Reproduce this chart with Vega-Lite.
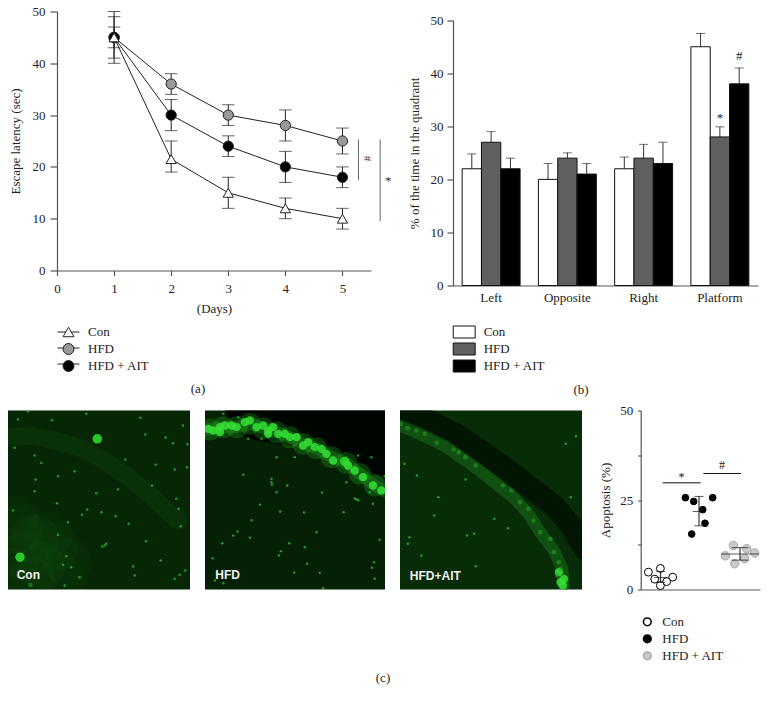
{"$schema":"https://vega.github.io/schema/vega-lite/v6.json","padding":{"left":8,"top":5.5,"right":0,"bottom":0},"background":"white","spacing":8,"align":"none","columns":1,
"config":{"view":{"stroke":null},"font":"Liberation Serif","axis":{"grid":false,"labelFlush":false,"domainColor":"#555","tickColor":"#555","domainWidth":1.2,"tickWidth":1.2,"labelFont":"Liberation Serif","titleFont":"Liberation Serif","labelFontSize":13,"titleFontSize":13,"labelColor":"#222","titleColor":"#222","titleFontWeight":"normal"},"legend":{"labelFont":"Liberation Serif","labelFontSize":13,"labelColor":"#222","title":null},"title":{"font":"Liberation Serif","fontSize":13,"fontWeight":"normal","color":"#222"}},
"resolve":{"scale":{"color":"independent","fill":"independent","stroke":"independent","shape":"independent","size":"independent","opacity":"independent"}},
"datasets":{
"latency":[
{"group":"HFD","day":1,"mean":45,"lo":41,"hi":49},{"group":"HFD","day":2,"mean":36,"lo":34,"hi":38},{"group":"HFD","day":3,"mean":30,"lo":28,"hi":32},{"group":"HFD","day":4,"mean":28,"lo":25,"hi":31},{"group":"HFD","day":5,"mean":25,"lo":22.5,"hi":27.5},
{"group":"HFD + AIT","day":1,"mean":45,"lo":43,"hi":47},{"group":"HFD + AIT","day":2,"mean":30,"lo":27,"hi":33},{"group":"HFD + AIT","day":3,"mean":24,"lo":22,"hi":26},{"group":"HFD + AIT","day":4,"mean":20,"lo":17,"hi":23},{"group":"HFD + AIT","day":5,"mean":18,"lo":16,"hi":20},
{"group":"Con","day":1,"mean":45,"lo":40,"hi":50},{"group":"Con","day":2,"mean":21.5,"lo":19,"hi":25},{"group":"Con","day":3,"mean":15,"lo":12,"hi":18},{"group":"Con","day":4,"mean":12,"lo":10,"hi":14},{"group":"Con","day":5,"mean":10,"lo":8,"hi":12}],
"quadrant":[
{"q":"Left","group":"Con","v":22,"hi":24.8},{"q":"Left","group":"HFD","v":27,"hi":29},{"q":"Left","group":"HFD + AIT","v":22,"hi":24},
{"q":"Opposite","group":"Con","v":20,"hi":23},{"q":"Opposite","group":"HFD","v":24,"hi":25},{"q":"Opposite","group":"HFD + AIT","v":21,"hi":23},
{"q":"Right","group":"Con","v":22,"hi":24.2},{"q":"Right","group":"HFD","v":24,"hi":26.6},{"q":"Right","group":"HFD + AIT","v":23,"hi":27},
{"q":"Platform","group":"Con","v":45,"hi":47.5},{"q":"Platform","group":"HFD","v":28,"hi":29.9},{"q":"Platform","group":"HFD + AIT","v":38,"hi":41}],
"apoptosis":[
{"group":"Con","x":7.7,"y":4.85},{"group":"Con","x":19.7,"y":5.9},{"group":"Con","x":32,"y":3.45},{"group":"Con","x":14,"y":2.9},{"group":"Con","x":26,"y":2.2},{"group":"Con","x":19.7,"y":1.1},
{"group":"HFD","x":44.7,"y":25.65},{"group":"HFD","x":53,"y":24.6},{"group":"HFD","x":72,"y":25.65},{"group":"HFD","x":62,"y":22.3},{"group":"HFD","x":64.3,"y":18.5},{"group":"HFD","x":51,"y":15.5},
{"group":"HFD + AIT","x":84.7,"y":9.4},{"group":"HFD + AIT","x":92.7,"y":12.3},{"group":"HFD + AIT","x":106,"y":11.4},{"group":"HFD + AIT","x":114,"y":10.2},{"group":"HFD + AIT","x":104,"y":8.6},{"group":"HFD + AIT","x":94,"y":7.2}],
"apoStats":[{"group":"Con","x":20,"mean":3.35,"lo":2,"hi":5},{"group":"HFD","x":58.3,"mean":21.8,"lo":17.8,"hi":26},{"group":"HFD + AIT","x":99.3,"mean":9.95,"lo":8.2,"hi":11.7}],
"bands":[
{"panel":"Con","kind":"arc","x":15,"y":95},{"panel":"Con","kind":"arc","x":80,"y":90},{"panel":"Con","kind":"arc","x":150,"y":105},{"panel":"Con","kind":"arc","x":220,"y":125},{"panel":"Con","kind":"arc","x":290,"y":160},{"panel":"Con","kind":"arc","x":350,"y":200},{"panel":"Con","kind":"arc","x":410,"y":245},{"panel":"Con","kind":"arc","x":470,"y":300},{"panel":"Con","kind":"arc","x":520,"y":345},
{"panel":"AIT","kind":"dark","x":10,"y":22},{"panel":"AIT","kind":"dark","x":100,"y":45},{"panel":"AIT","kind":"dark","x":180,"y":85},{"panel":"AIT","kind":"dark","x":260,"y":140},{"panel":"AIT","kind":"dark","x":330,"y":190},{"panel":"AIT","kind":"dark","x":400,"y":245},{"panel":"AIT","kind":"dark","x":470,"y":300},{"panel":"AIT","kind":"dark","x":520,"y":360},{"panel":"AIT","kind":"dark","x":560,"y":430},
{"panel":"AIT","kind":"glow","x":15,"y":60},{"panel":"AIT","kind":"glow","x":60,"y":78},{"panel":"AIT","kind":"glow","x":100,"y":98},{"panel":"AIT","kind":"glow","x":150,"y":122},{"panel":"AIT","kind":"glow","x":200,"y":158},{"panel":"AIT","kind":"glow","x":250,"y":195},{"panel":"AIT","kind":"glow","x":300,"y":235},{"panel":"AIT","kind":"glow","x":350,"y":275},{"panel":"AIT","kind":"glow","x":395,"y":325},{"panel":"AIT","kind":"glow","x":430,"y":380},{"panel":"AIT","kind":"glow","x":470,"y":435},{"panel":"AIT","kind":"glow","x":495,"y":490},{"panel":"AIT","kind":"glow","x":500,"y":550},
{"panel":"HFD","kind":"shade","x":180,"y":0},{"panel":"HFD","kind":"shade","x":300,"y":20},{"panel":"HFD","kind":"shade","x":400,"y":40},{"panel":"HFD","kind":"shade","x":480,"y":70},{"panel":"HFD","kind":"shade","x":570,"y":110},
{"panel":"HFD","kind":"glow","x":15,"y":72},{"panel":"HFD","kind":"glow","x":70,"y":65},{"panel":"HFD","kind":"glow","x":110,"y":65},{"panel":"HFD","kind":"glow","x":150,"y":55},{"panel":"HFD","kind":"glow","x":190,"y":68},{"panel":"HFD","kind":"glow","x":230,"y":80},{"panel":"HFD","kind":"glow","x":270,"y":95},{"panel":"HFD","kind":"glow","x":310,"y":115},{"panel":"HFD","kind":"glow","x":350,"y":128},{"panel":"HFD","kind":"glow","x":395,"y":155},{"panel":"HFD","kind":"glow","x":440,"y":172},{"panel":"HFD","kind":"glow","x":480,"y":205},{"panel":"HFD","kind":"glow","x":525,"y":240},{"panel":"HFD","kind":"glow","x":556,"y":258}],
"spots":[
{"panel":"Con","kind":"haze","x":40,"y":370},{"panel":"Con","kind":"haze","x":90,"y":400},{"panel":"Con","kind":"haze","x":150,"y":425},{"panel":"Con","kind":"haze","x":190,"y":470},{"panel":"Con","kind":"haze","x":60,"y":450},{"panel":"Con","kind":"haze","x":110,"y":480},{"panel":"Con","kind":"haze","x":170,"y":525},{"panel":"Con","kind":"haze","x":30,"y":500},{"panel":"Con","kind":"haze","x":80,"y":525},{"panel":"Con","kind":"haze","x":130,"y":390},{"panel":"Con","kind":"haze","x":30,"y":340},
{"panel":"Con","kind":"blob","x":278,"y":100},{"panel":"Con","kind":"blob","x":46,"y":455},{"panel":"Con","kind":"faint","x":77,"y":538},
{"panel":"Con","kind":"spot","x":40,"y":42},{"panel":"Con","kind":"spot","x":70,"y":17},{"panel":"Con","kind":"spot","x":142,"y":44},{"panel":"Con","kind":"spot","x":245,"y":25},{"panel":"Con","kind":"spot","x":407,"y":37},{"panel":"Con","kind":"spot","x":535,"y":60},{"panel":"Con","kind":"spot","x":422,"y":87},{"panel":"Con","kind":"spot","x":483,"y":96},{"panel":"Con","kind":"spot","x":548,"y":116},{"panel":"Con","kind":"spot","x":505,"y":113},{"panel":"Con","kind":"spot","x":30,"y":127},{"panel":"Con","kind":"spot","x":90,"y":150},{"panel":"Con","kind":"spot","x":110,"y":172},{"panel":"Con","kind":"spot","x":362,"y":162},{"panel":"Con","kind":"spot","x":453,"y":178},{"panel":"Con","kind":"spot","x":547,"y":185},{"panel":"Con","kind":"spot","x":510,"y":192},{"panel":"Con","kind":"spot","x":160,"y":212},{"panel":"Con","kind":"spot","x":210,"y":197},{"panel":"Con","kind":"spot","x":93,"y":222},{"panel":"Con","kind":"spot","x":442,"y":240},{"panel":"Con","kind":"spot","x":90,"y":257},{"panel":"Con","kind":"spot","x":340,"y":252},{"panel":"Con","kind":"spot","x":275,"y":263},{"panel":"Con","kind":"spot","x":515,"y":280},{"panel":"Con","kind":"spot","x":157,"y":293},{"panel":"Con","kind":"spot","x":25,"y":315},{"panel":"Con","kind":"spot","x":248,"y":312},{"panel":"Con","kind":"spot","x":232,"y":328},{"panel":"Con","kind":"spot","x":290,"y":320},{"panel":"Con","kind":"spot","x":333,"y":332},{"panel":"Con","kind":"spot","x":372,"y":355},{"panel":"Con","kind":"spot","x":190,"y":350},{"panel":"Con","kind":"spot","x":528,"y":362},{"panel":"Con","kind":"spot","x":522,"y":310},{"panel":"Con","kind":"spot","x":160,"y":388},{"panel":"Con","kind":"spot","x":300,"y":420},{"panel":"Con","kind":"spot","x":293,"y":423},{"panel":"Con","kind":"spot","x":305,"y":415},{"panel":"Con","kind":"spot","x":424,"y":407},{"panel":"Con","kind":"spot","x":185,"y":452},{"panel":"Con","kind":"spot","x":175,"y":478},{"panel":"Con","kind":"spot","x":200,"y":485},{"panel":"Con","kind":"spot","x":468,"y":465},{"panel":"Con","kind":"spot","x":385,"y":483},{"panel":"Con","kind":"spot","x":390,"y":510},{"panel":"Con","kind":"spot","x":525,"y":508},{"panel":"Con","kind":"spot","x":510,"y":520},{"panel":"Con","kind":"spot","x":542,"y":495},{"panel":"Con","kind":"spot","x":180,"y":540},{"panel":"Con","kind":"spot","x":225,"y":515},
{"panel":"HFD","kind":"halo","x":30,"y":72},{"panel":"HFD","kind":"halo","x":70,"y":65},{"panel":"HFD","kind":"halo","x":110,"y":65},{"panel":"HFD","kind":"halo","x":150,"y":55},{"panel":"HFD","kind":"halo","x":190,"y":68},{"panel":"HFD","kind":"halo","x":230,"y":80},{"panel":"HFD","kind":"halo","x":270,"y":95},{"panel":"HFD","kind":"halo","x":310,"y":115},{"panel":"HFD","kind":"halo","x":350,"y":128},{"panel":"HFD","kind":"halo","x":395,"y":155},{"panel":"HFD","kind":"halo","x":440,"y":172},{"panel":"HFD","kind":"halo","x":480,"y":205},{"panel":"HFD","kind":"halo","x":525,"y":240},
{"panel":"HFD","kind":"cell","x":25,"y":70},{"panel":"HFD","kind":"cell","x":40,"y":75},{"panel":"HFD","kind":"cell","x":60,"y":65},{"panel":"HFD","kind":"cell","x":75,"y":60},{"panel":"HFD","kind":"cell","x":95,"y":60},{"panel":"HFD","kind":"cell","x":110,"y":65},{"panel":"HFD","kind":"cell","x":135,"y":50},{"panel":"HFD","kind":"cell","x":150,"y":45},{"panel":"HFD","kind":"cell","x":170,"y":65},{"panel":"HFD","kind":"cell","x":190,"y":60},{"panel":"HFD","kind":"cell","x":205,"y":75},{"panel":"HFD","kind":"cell","x":220,"y":65},{"panel":"HFD","kind":"cell","x":235,"y":85},{"panel":"HFD","kind":"cell","x":255,"y":85},{"panel":"HFD","kind":"cell","x":270,"y":95},{"panel":"HFD","kind":"cell","x":290,"y":95},{"panel":"HFD","kind":"cell","x":310,"y":120},{"panel":"HFD","kind":"cell","x":325,"y":110},{"panel":"HFD","kind":"cell","x":345,"y":125},{"panel":"HFD","kind":"cell","x":365,"y":130},{"panel":"HFD","kind":"cell","x":380,"y":145},{"panel":"HFD","kind":"cell","x":400,"y":165},{"panel":"HFD","kind":"blob","x":435,"y":168},{"panel":"HFD","kind":"cell","x":445,"y":180},{"panel":"HFD","kind":"cell","x":465,"y":195},{"panel":"HFD","kind":"cell","x":490,"y":215},{"panel":"HFD","kind":"cell","x":520,"y":240},{"panel":"HFD","kind":"cell","x":545,"y":255},{"panel":"HFD","kind":"cell","x":60,"y":80},{"panel":"HFD","kind":"cell","x":205,"y":85},
{"panel":"HFD","kind":"spot","x":70,"y":25},{"panel":"HFD","kind":"spot","x":115,"y":35},{"panel":"HFD","kind":"spot","x":130,"y":55},{"panel":"HFD","kind":"spot","x":145,"y":100},{"panel":"HFD","kind":"spot","x":185,"y":100},{"panel":"HFD","kind":"spot","x":230,"y":155},{"panel":"HFD","kind":"spot","x":285,"y":155},{"panel":"HFD","kind":"spot","x":475,"y":150},{"panel":"HFD","kind":"spot","x":515,"y":155},{"panel":"HFD","kind":"spot","x":130,"y":208},{"panel":"HFD","kind":"spot","x":215,"y":220},{"panel":"HFD","kind":"spot","x":215,"y":230},{"panel":"HFD","kind":"spot","x":216,"y":238},{"panel":"HFD","kind":"spot","x":262,"y":240},{"panel":"HFD","kind":"spot","x":230,"y":260},{"panel":"HFD","kind":"spot","x":367,"y":261},{"panel":"HFD","kind":"spot","x":465,"y":279},{"panel":"HFD","kind":"spot","x":470,"y":281},{"panel":"HFD","kind":"spot","x":476,"y":284},{"panel":"HFD","kind":"spot","x":180,"y":298},{"panel":"HFD","kind":"spot","x":241,"y":318},{"panel":"HFD","kind":"spot","x":313,"y":321},{"panel":"HFD","kind":"spot","x":432,"y":320},{"panel":"HFD","kind":"spot","x":155,"y":344},{"panel":"HFD","kind":"spot","x":350,"y":380},{"panel":"HFD","kind":"spot","x":113,"y":378},{"panel":"HFD","kind":"spot","x":100,"y":390},{"panel":"HFD","kind":"spot","x":150,"y":397},{"panel":"HFD","kind":"spot","x":67,"y":413},{"panel":"HFD","kind":"spot","x":268,"y":413},{"panel":"HFD","kind":"spot","x":315,"y":425},{"panel":"HFD","kind":"spot","x":243,"y":437},{"panel":"HFD","kind":"spot","x":237,"y":450},{"panel":"HFD","kind":"spot","x":38,"y":458},{"panel":"HFD","kind":"spot","x":540,"y":403},{"panel":"HFD","kind":"spot","x":523,"y":470},{"panel":"HFD","kind":"spot","x":517,"y":487},{"panel":"HFD","kind":"spot","x":322,"y":475},{"panel":"HFD","kind":"spot","x":283,"y":501},{"panel":"HFD","kind":"spot","x":360,"y":502},{"panel":"HFD","kind":"spot","x":525,"y":520},{"panel":"HFD","kind":"spot","x":370,"y":548},{"panel":"HFD","kind":"spot","x":70,"y":533},{"panel":"HFD","kind":"spot","x":555,"y":212},{"panel":"HFD","kind":"spot","x":45,"y":525},{"panel":"HFD","kind":"spot","x":440,"y":230},{"panel":"HFD","kind":"spot","x":510,"y":260},{"panel":"HFD","kind":"spot","x":520,"y":295},
{"panel":"AIT","kind":"cell","x":490,"y":530},{"panel":"AIT","kind":"cell","x":497,"y":540},{"panel":"AIT","kind":"cell","x":500,"y":520},{"panel":"AIT","kind":"cell","x":485,"y":500},
{"panel":"AIT","kind":"faint","x":20,"y":55},{"panel":"AIT","kind":"faint","x":40,"y":68},{"panel":"AIT","kind":"faint","x":65,"y":75},{"panel":"AIT","kind":"faint","x":90,"y":85},{"panel":"AIT","kind":"faint","x":125,"y":112},{"panel":"AIT","kind":"faint","x":175,"y":132},{"panel":"AIT","kind":"faint","x":190,"y":140},{"panel":"AIT","kind":"faint","x":210,"y":155},{"panel":"AIT","kind":"faint","x":240,"y":180},{"panel":"AIT","kind":"faint","x":320,"y":240},{"panel":"AIT","kind":"faint","x":345,"y":255},{"panel":"AIT","kind":"faint","x":370,"y":290},{"panel":"AIT","kind":"faint","x":395,"y":310},{"panel":"AIT","kind":"faint","x":410,"y":345},{"panel":"AIT","kind":"faint","x":430,"y":380},{"panel":"AIT","kind":"faint","x":460,"y":400},{"panel":"AIT","kind":"faint","x":470,"y":440},{"panel":"AIT","kind":"faint","x":485,"y":470},{"panel":"AIT","kind":"faint","x":490,"y":490},{"panel":"AIT","kind":"faint","x":480,"y":510},
{"panel":"AIT","kind":"spot","x":535,"y":92},{"panel":"AIT","kind":"spot","x":505,"y":115},{"panel":"AIT","kind":"spot","x":67,"y":210},{"panel":"AIT","kind":"spot","x":30,"y":175},{"panel":"AIT","kind":"spot","x":210,"y":222},{"panel":"AIT","kind":"spot","x":130,"y":275},{"panel":"AIT","kind":"spot","x":118,"y":330},{"panel":"AIT","kind":"spot","x":295,"y":340},{"panel":"AIT","kind":"spot","x":335,"y":368},{"panel":"AIT","kind":"spot","x":520,"y":275},{"panel":"AIT","kind":"spot","x":40,"y":415},{"panel":"AIT","kind":"spot","x":80,"y":450},{"panel":"AIT","kind":"spot","x":240,"y":482},{"panel":"AIT","kind":"spot","x":45,"y":395},{"panel":"AIT","kind":"spot","x":235,"y":385},{"panel":"AIT","kind":"spot","x":215,"y":390}],
"names":[{"panel":"Con","label":"Con","x":36,"y":509},{"panel":"HFD","label":"HFD","x":46,"y":509},{"panel":"AIT","label":"HFD+AIT","x":46,"y":511}]
},
"concat":[
{"hconcat":[
{"width":363,"height":259,
"title":{"text":"(a)","orient":"bottom","offset":9,"dx":8.5,"anchor":"middle","frame":"group"},
"data":{"name":"latency"},
"encoding":{"x":{"field":"day","type":"quantitative","scale":{"domain":[0,5.5],"nice":false,"range":[49,363]},"axis":{"values":[0,1,2,3,4,5],"title":"(Days)","tickSize":5,"labelPadding":7,"titlePadding":7,"format":"d"}},
"y":{"type":"quantitative","scale":{"domain":[0,50],"nice":false}}},
"layer":[
{"mark":{"type":"line","strokeWidth":1},"encoding":{"y":{"field":"mean","type":"quantitative","scale":{"domain":[0,50],"nice":false},"axis":{"values":[0,10,20,30,40,50],"title":"Escape latency (sec)","tickSize":7,"labelPadding":5,"titlePadding":10,"offset":-49}},"color":{"field":"group","type":"nominal","scale":{"domain":["Con","HFD + AIT","HFD"],"range":["#222","#222","#222"]},"legend":{"orient":"none","legendX":54,"legendY":314,"symbolType":"M-2,0H2","symbolSize":120,"symbolStrokeWidth":1,"labelExpr":"''","labelOffset":13,"rowPadding":2,"zindex":1}}}},
{"mark":{"type":"rule","color":"#222","strokeWidth":1},"encoding":{"y":{"field":"lo","type":"quantitative","scale":{"domain":[0,50],"nice":false}},"y2":{"field":"hi"}}},
{"mark":{"type":"tick","orient":"horizontal","color":"#222","thickness":1,"size":12.5},"encoding":{"y":{"field":"lo","type":"quantitative"}}},
{"mark":{"type":"tick","orient":"horizontal","color":"#222","thickness":1,"size":12.5},"encoding":{"y":{"field":"hi","type":"quantitative"}}},
{"mark":{"type":"point","filled":true,"size":105,"stroke":"#222","strokeWidth":1,"opacity":1},"encoding":{"y":{"field":"mean","type":"quantitative"},
"fill":{"field":"group","type":"nominal","scale":{"domain":["Con","HFD","HFD + AIT"],"range":["#ffffff","#999999","#000000"]},"legend":{"orient":"none","legendX":54,"legendY":314,"symbolSize":120,"symbolStrokeColor":"#222","symbolStrokeWidth":1,"labelOffset":13,"rowPadding":2,"zindex":2}},
"shape":{"field":"group","type":"nominal","scale":{"domain":["Con","HFD","HFD + AIT"],"range":["triangle-up","circle","circle"]}}}},
{"data":{"values":[{"x":5.28,"a":25.3,"b":17.4},{"x":5.66,"a":25.3,"b":9.5}]},"mark":{"type":"rule","color":"#666","strokeWidth":1},"encoding":{"x":{"field":"x","type":"quantitative"},"y":{"field":"a","type":"quantitative"},"y2":{"field":"b"}}},
{"data":{"values":[{"x":5.43,"y":21.6,"t":"#"}]},"mark":{"type":"text","fontSize":11,"angle":90,"color":"#333"},"encoding":{"x":{"field":"x","type":"quantitative"},"y":{"field":"y","type":"quantitative"},"text":{"field":"t"}}},
{"data":{"values":[{"x":5.8,"y":17.2,"t":"*"}]},"mark":{"type":"text","fontSize":13,"color":"#333"},"encoding":{"x":{"field":"x","type":"quantitative"},"y":{"field":"y","type":"quantitative"},"text":{"field":"t"}}}
]},
{"width":305,"height":274,
"title":{"text":"(b)","orient":"bottom","offset":9,"dx":-24.5,"anchor":"middle","frame":"group"},
"data":{"name":"quadrant"},
"encoding":{"x":{"field":"q","type":"nominal","sort":["Left","Opposite","Right","Platform"],"scale":{"paddingInner":0.24,"paddingOuter":0.12},"axis":{"title":null,"ticks":false,"labelAngle":0,"labelPadding":6}},
"xOffset":{"field":"group","type":"nominal","sort":["Con","HFD","HFD + AIT"],"scale":{"paddingInner":0,"paddingOuter":0}}},
"layer":[
{"mark":{"type":"rule","color":"#333","strokeWidth":1},"encoding":{"y":{"field":"v","type":"quantitative"},"y2":{"field":"hi"}}},
{"mark":{"type":"tick","orient":"horizontal","color":"#333","thickness":1,"size":9},"encoding":{"y":{"field":"hi","type":"quantitative"}}},
{"mark":{"type":"bar","stroke":"#111","strokeWidth":1},"encoding":{"y":{"field":"v","type":"quantitative","scale":{"domain":[0,50],"nice":false,"range":[274,8.7]},"axis":{"values":[0,10,20,30,40,50],"title":"% of the time in the quadrant","tickSize":6,"labelPadding":4,"titlePadding":9}},
"fill":{"field":"group","type":"nominal","scale":{"domain":["Con","HFD","HFD + AIT"],"range":["#ffffff","#606060","#000000"]},"legend":{"orient":"none","legendX":4.7,"legendY":314,"symbolType":"M-1.83,-1H1.83V1H-1.83Z","symbolSize":144,"symbolStrokeColor":"#111","symbolStrokeWidth":1,"labelOffset":13,"rowPadding":0}}}},
{"data":{"values":[{"q":"Platform","group":"HFD","y":31.6,"t":"*"},{"q":"Platform","group":"HFD + AIT","y":43.2,"t":"#"}]},"mark":{"type":"text","fontSize":13,"color":"#222"},"encoding":{"y":{"field":"y","type":"quantitative"},"text":{"field":"t"}}}
]}
],"spacing":82,"bounds":"flush","resolve":{"scale":{"color":"independent","fill":"independent","stroke":"independent","shape":"independent","size":"independent","opacity":"independent"}}},
{"hconcat":[
{"width":182,"height":179,"view":{"fill":"#062606","stroke":null},"resolve":{"scale":{"color":"independent","size":"independent","opacity":"independent"}},"layer":[
{"data":{"name":"bands"},"transform":[{"filter":"datum.panel=='Con'"}],"mark":{"type":"trail","clip":true},"encoding":{"x":{"field":"x","type":"quantitative","scale":{"domain":[10,556],"nice":false,"zero":false},"axis":null},"y":{"field":"y","type":"quantitative","scale":{"domain":[552,15],"nice":false,"zero":false},"axis":null},"color":{"field":"kind","type":"nominal","scale":{"domain":["arc","dark","glow","shade"],"range":["#1a7a1a","#021402","#1d8a1d","#000500"]},"legend":null},"size":{"field":"kind","type":"nominal","scale":{"type":"ordinal","domain":["arc","dark","glow","shade"],"range":[18,22,12,70]},"legend":null},"opacity":{"field":"kind","type":"nominal","scale":{"type":"ordinal","domain":["arc","dark","glow","shade"],"range":[0.14,0.95,0.4,1]},"legend":null}}},
{"data":{"name":"spots"},"transform":[{"filter":"datum.panel=='Con'"}],"mark":{"type":"circle","clip":true},"encoding":{"x":{"field":"x","type":"quantitative"},"y":{"field":"y","type":"quantitative"},"color":{"field":"kind","type":"nominal","scale":{"domain":["haze","halo","blob","cell","faint","spot"],"range":["#1c8c1c","#1f9f1f","#2ed82e","#35e035","#2aa82a","#2cbc2c"]},"legend":null},"size":{"field":"kind","type":"nominal","scale":{"type":"ordinal","domain":["haze","halo","blob","cell","faint","spot"],"range":[2400,480,90,70,22,6]},"legend":null},"opacity":{"field":"kind","type":"nominal","scale":{"type":"ordinal","domain":["haze","halo","blob","cell","faint","spot"],"range":[0.06,0.33,0.9,0.85,0.5,0.8]},"legend":null}}},
{"data":{"name":"names"},"transform":[{"filter":"datum.panel=='Con'"}],"mark":{"type":"text","font":"Liberation Sans","fontWeight":"bold","fontSize":12,"color":"#f0f0f0","align":"left"},"encoding":{"x":{"field":"x","type":"quantitative"},"y":{"field":"y","type":"quantitative"},"text":{"field":"label"}}}
]},
{"width":180,"height":179,"view":{"fill":"#052005","stroke":null},"resolve":{"scale":{"color":"independent","size":"independent","opacity":"independent"}},
"title":{"text":"(c)","orient":"bottom","offset":82,"dx":88,"anchor":"middle","frame":"group"},
"layer":[
{"data":{"name":"bands"},"transform":[{"filter":"datum.panel=='HFD'"}],"mark":{"type":"trail","clip":true},"encoding":{"x":{"field":"x","type":"quantitative","scale":{"domain":[15,556],"nice":false,"zero":false},"axis":null},"y":{"field":"y","type":"quantitative","scale":{"domain":[552,15],"nice":false,"zero":false},"axis":null},"color":{"field":"kind","type":"nominal","scale":{"domain":["arc","dark","glow","shade"],"range":["#1a7a1a","#021402","#1d8a1d","#000500"]},"legend":null},"size":{"field":"kind","type":"nominal","scale":{"type":"ordinal","domain":["arc","dark","glow","shade"],"range":[18,22,12,70]},"legend":null},"opacity":{"field":"kind","type":"nominal","scale":{"type":"ordinal","domain":["arc","dark","glow","shade"],"range":[0.14,0.95,0.4,1]},"legend":null}}},
{"data":{"name":"spots"},"transform":[{"filter":"datum.panel=='HFD'"}],"mark":{"type":"circle","clip":true},"encoding":{"x":{"field":"x","type":"quantitative"},"y":{"field":"y","type":"quantitative"},"color":{"field":"kind","type":"nominal","scale":{"domain":["haze","halo","blob","cell","faint","spot"],"range":["#1c8c1c","#1f9f1f","#2ed82e","#35e035","#2aa82a","#2cbc2c"]},"legend":null},"size":{"field":"kind","type":"nominal","scale":{"type":"ordinal","domain":["haze","halo","blob","cell","faint","spot"],"range":[2400,480,90,70,22,6]},"legend":null},"opacity":{"field":"kind","type":"nominal","scale":{"type":"ordinal","domain":["haze","halo","blob","cell","faint","spot"],"range":[0.06,0.33,0.9,0.85,0.5,0.8]},"legend":null}}},
{"data":{"name":"names"},"transform":[{"filter":"datum.panel=='HFD'"}],"mark":{"type":"text","font":"Liberation Sans","fontWeight":"bold","fontSize":12,"color":"#f0f0f0","align":"left"},"encoding":{"x":{"field":"x","type":"quantitative"},"y":{"field":"y","type":"quantitative"},"text":{"field":"label"}}}
]},
{"width":182,"height":179,"view":{"fill":"#082b08","stroke":null},"resolve":{"scale":{"color":"independent","size":"independent","opacity":"independent"}},"layer":[
{"data":{"name":"bands"},"transform":[{"filter":"datum.panel=='AIT'"}],"mark":{"type":"trail","clip":true},"encoding":{"x":{"field":"x","type":"quantitative","scale":{"domain":[17,553],"nice":false,"zero":false},"axis":null},"y":{"field":"y","type":"quantitative","scale":{"domain":[552,15],"nice":false,"zero":false},"axis":null},"color":{"field":"kind","type":"nominal","scale":{"domain":["arc","dark","glow","shade"],"range":["#1a7a1a","#021402","#1d8a1d","#000500"]},"legend":null},"size":{"field":"kind","type":"nominal","scale":{"type":"ordinal","domain":["arc","dark","glow","shade"],"range":[18,22,12,70]},"legend":null},"opacity":{"field":"kind","type":"nominal","scale":{"type":"ordinal","domain":["arc","dark","glow","shade"],"range":[0.14,0.95,0.4,1]},"legend":null}}},
{"data":{"name":"spots"},"transform":[{"filter":"datum.panel=='AIT'"}],"mark":{"type":"circle","clip":true},"encoding":{"x":{"field":"x","type":"quantitative"},"y":{"field":"y","type":"quantitative"},"color":{"field":"kind","type":"nominal","scale":{"domain":["haze","halo","blob","cell","faint","spot"],"range":["#1c8c1c","#1f9f1f","#2ed82e","#35e035","#2aa82a","#2cbc2c"]},"legend":null},"size":{"field":"kind","type":"nominal","scale":{"type":"ordinal","domain":["haze","halo","blob","cell","faint","spot"],"range":[2400,480,90,70,22,6]},"legend":null},"opacity":{"field":"kind","type":"nominal","scale":{"type":"ordinal","domain":["haze","halo","blob","cell","faint","spot"],"range":[0.06,0.33,0.9,0.85,0.5,0.8]},"legend":null}}},
{"data":{"name":"names"},"transform":[{"filter":"datum.panel=='AIT'"}],"mark":{"type":"text","font":"Liberation Sans","fontWeight":"bold","fontSize":12,"color":"#f0f0f0","align":"left"},"encoding":{"x":{"field":"x","type":"quantitative"},"y":{"field":"y","type":"quantitative"},"text":{"field":"label"}}}
]},
{"width":163,"height":179,"layer":[
{"data":{"name":"apoptosis"},"mark":{"type":"point","filled":true,"opacity":1,"strokeWidth":1},"encoding":{"x":{"field":"x","type":"quantitative","scale":{"domain":[0,119.3],"range":[43.7,163],"nice":false},"axis":{"title":null,"ticks":false,"labels":false}},"y":{"field":"y","type":"quantitative","scale":{"domain":[0,50],"nice":false},"axis":{"values":[0,12.5,25,37.5,50],"labelExpr":"datum.value % 25 == 0 ? datum.label : ''","title":"Apoptosis (%)","tickSize":3,"labelPadding":5,"titlePadding":7,"offset":-43.7,"format":"d"}},
"fill":{"field":"group","type":"nominal","scale":{"domain":["Con","HFD","HFD + AIT"],"range":["#ffffff","#000000","#c8c8c8"]},"legend":{"orient":"none","legendX":43.8,"legendY":204.8,"symbolSize":60,"labelOffset":8.5,"rowPadding":2}},
"stroke":{"field":"group","type":"nominal","scale":{"domain":["Con","HFD","HFD + AIT"],"range":["#000000","#000000","#aaaaaa"]}},
"size":{"field":"group","type":"nominal","scale":{"type":"ordinal","domain":["Con","HFD","HFD + AIT"],"range":[62,45,72]},"legend":null}}},
{"data":{"name":"apoStats"},"mark":{"type":"rule","color":"#111","strokeWidth":1},"encoding":{"x":{"field":"x","type":"quantitative"},"y":{"field":"lo","type":"quantitative"},"y2":{"field":"hi"}}},
{"data":{"name":"apoStats"},"mark":{"type":"tick","orient":"horizontal","color":"#111","thickness":1},"encoding":{"x":{"field":"x","type":"quantitative"},"y":{"field":"mean","type":"quantitative"},"size":{"field":"group","type":"nominal","scale":{"type":"ordinal","domain":["Con","HFD","HFD + AIT"],"range":[13,13,38]},"legend":null}}},
{"data":{"name":"apoStats"},"mark":{"type":"tick","orient":"horizontal","color":"#111","thickness":1},"encoding":{"x":{"field":"x","type":"quantitative"},"y":{"field":"lo","type":"quantitative"},"size":{"field":"group","type":"nominal","scale":{"type":"ordinal","domain":["Con","HFD","HFD + AIT"],"range":[9,9,16.7]},"legend":null}}},
{"data":{"name":"apoStats"},"mark":{"type":"tick","orient":"horizontal","color":"#111","thickness":1},"encoding":{"x":{"field":"x","type":"quantitative"},"y":{"field":"hi","type":"quantitative"},"size":{"field":"group","type":"nominal","scale":{"type":"ordinal","domain":["Con","HFD","HFD + AIT"],"range":[9,9,16.7]},"legend":null}}},
{"data":{"values":[{"a":22,"b":60,"y":29.8},{"a":62.7,"b":100.3,"y":32.4}]},"mark":{"type":"rule","color":"#111","strokeWidth":1},"encoding":{"x":{"field":"a","type":"quantitative"},"x2":{"field":"b"},"y":{"field":"y","type":"quantitative"}}},
{"data":{"values":[{"x":40.7,"y":31.3,"t":"*"},{"x":81.3,"y":34.7,"t":"#"}]},"mark":{"type":"text","fontSize":12,"color":"#222"},"encoding":{"x":{"field":"x","type":"quantitative"},"y":{"field":"y","type":"quantitative"},"text":{"field":"t"}}}
],"resolve":{"scale":{"size":"independent"}}}
],"spacing":15,"bounds":"flush","resolve":{"scale":{"color":"independent","fill":"independent","stroke":"independent","shape":"independent","size":"independent","opacity":"independent"}}}
]}
